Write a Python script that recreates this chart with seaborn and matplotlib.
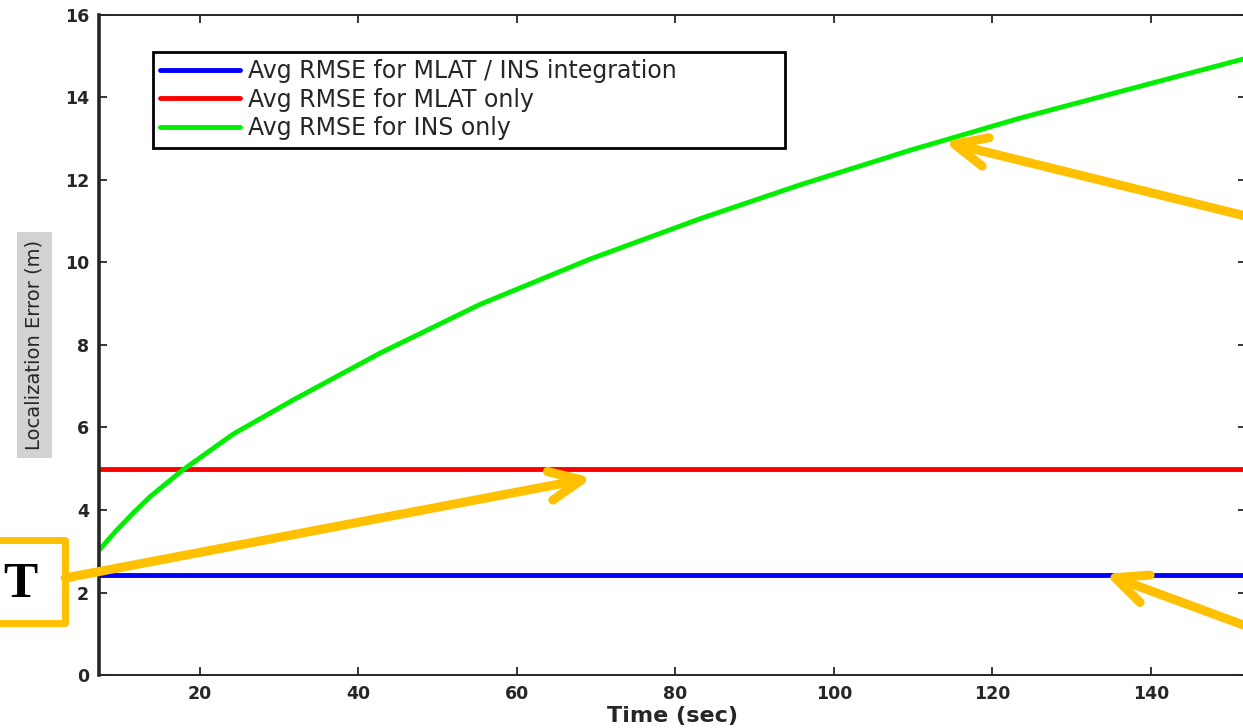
import matplotlib
matplotlib.use('Agg')
import matplotlib.pyplot as plt
import seaborn as sns
from matplotlib.patches import Rectangle

# ++++++++++++++++++++++++++++++++++++++++ data
time_ins = [7.3, 9.3, 11.6, 13.7, 17.7, 24.2, 31.7, 42.7, 55.3, 69.2, 83.1, 95.7, 109.6, 123.5, 138.6, 152.0]
err_ins = [3.03, 3.47, 3.93, 4.32, 4.95, 5.84, 6.66, 7.80, 8.98, 10.08, 11.06, 11.88, 12.72, 13.50, 14.27, 14.95]
time_flat = [7.3, 152.0]
err_mlat_ins = [2.42, 2.42]
err_mlat = [4.99, 4.99]

labels = ['Avg RMSE for MLAT / INS integration', 'Avg RMSE for MLAT only', 'Avg RMSE for INS only']
colors = ['#0000ff', '#ff0000', '#00ee00']
xticks = [20, 40, 60, 80, 100, 120, 140]
yticks = [0, 2, 4, 6, 8, 10, 12, 14, 16]

orange = '#ffc000'

# ++++++++++++++++++++++++++++++++++++++++ plot
sns.set_style('ticks')
plt.rcParams['font.family'] = ['DejaVu Sans']

fig = plt.figure(figsize=(12.43, 7.28), dpi=100)
ax = fig.add_axes([0.0796, 0.0728, 0.9228, 0.9066])

sns.lineplot(x=time_flat, y=err_mlat_ins, color=colors[0], lw=3.5, label=labels[0], ax=ax)
sns.lineplot(x=time_flat, y=err_mlat, color=colors[1], lw=3.5, label=labels[1], ax=ax)
sns.lineplot(x=time_ins, y=err_ins, color=colors[2], lw=3.5, label=labels[2], ax=ax)

ax.set_xlim(7.26, 152)
ax.set_ylim(0, 16)
ax.set_xticks(xticks)
ax.set_yticks(yticks)
ax.tick_params(top=True, right=True, direction='in', length=6, width=1.3, pad=7)
for lab in ax.get_xticklabels() + ax.get_yticklabels():
    lab.set_fontweight('bold')
    lab.set_fontsize(12.5)
for side in ['top', 'right', 'bottom']:
    ax.spines[side].set_linewidth(1.4)
ax.spines['left'].set_linewidth(2.6)

ax.set_xlabel('Time (sec)', fontsize=16, fontweight='bold', labelpad=2)
ax.set_ylabel('Localization Error (m)', fontsize=14,
              bbox=dict(facecolor='#d2d2d2', edgecolor='none', pad=6))
ax.yaxis.set_label_coords(-0.048, 0.5)

leg = ax.legend(loc='upper left', bbox_to_anchor=(0.0469, 0.0, 0.551, 0.944), mode='expand',
                borderaxespad=0, fontsize=17, handlelength=3.4, handletextpad=0.35,
                labelspacing=0.2, borderpad=0.3, fancybox=False, framealpha=1)
leg.get_frame().set_edgecolor('black')
leg.get_frame().set_linewidth(2)

# ++++++++++++++++++++++++++++++++++++++++ orange call-outs
box = Rectangle((-0.02, 0.1442), 0.0723, 0.114, transform=fig.transFigure, fill=False,
                edgecolor=orange, lw=5, joinstyle='round', clip_on=False)
fig.add_artist(box)
fig.text(0.003, 0.18, 'T', ha='left', va='baseline', fontsize=37, fontweight='bold',
         family='Liberation Serif', color='black')

arrow = dict(arrowstyle='->,head_length=2.3,head_width=1.05', color=orange, lw=6.5,
             mutation_scale=10, shrinkA=0, shrinkB=0, capstyle='round', joinstyle='round')
ax.annotate('', xy=(69.5, 4.78), xycoords='data', xytext=(0.0523, 0.206),
            textcoords='figure fraction', arrowprops=arrow, annotation_clip=False)
ax.annotate('', xy=(113.9, 12.93), xycoords='data', xytext=(1.0217, 0.695),
            textcoords='figure fraction', arrowprops=arrow, annotation_clip=False)
ax.annotate('', xy=(134.2, 2.45), xycoords='data', xytext=(1.0217, 0.128),
            textcoords='figure fraction', arrowprops=arrow, annotation_clip=False)

plt.savefig('out.png', dpi=100)
